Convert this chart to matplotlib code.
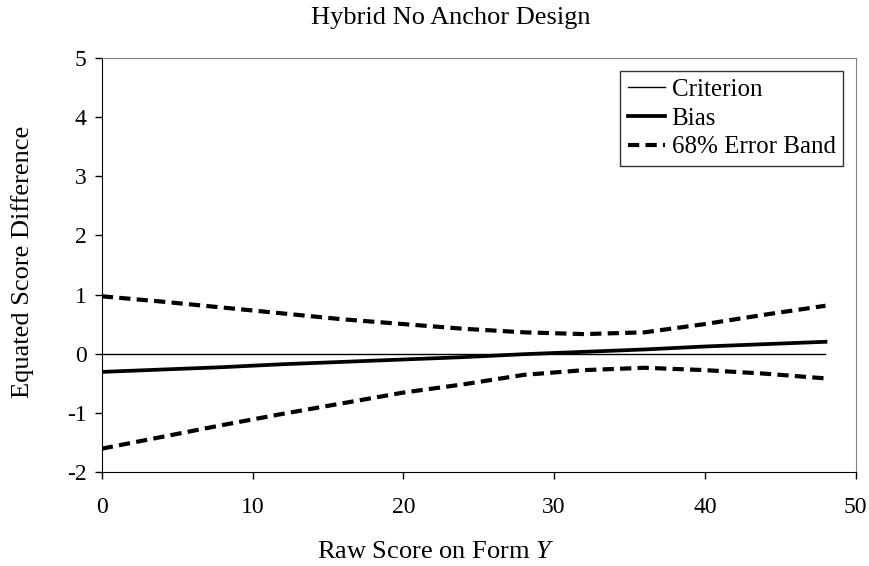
import matplotlib
matplotlib.use("Agg")
import matplotlib.pyplot as plt

plt.rcParams['font.family'] = ['Liberation Serif', 'DejaVu Serif']
plt.rcParams['mathtext.fontset'] = 'custom'
plt.rcParams['mathtext.it'] = 'Liberation Serif:italic'
plt.rcParams['mathtext.rm'] = 'Liberation Serif'
plt.rcParams['axes.unicode_minus'] = False

# raw score points
escores = [0, 4, 8, 12, 16, 20, 24, 28, 32, 36, 40, 44, 48]
criterion = [0, 0, 0, 0, 0, 0, 0, 0, 0, 0, 0, 0, 0]
bias = [-0.31, -0.27, -0.23, -0.18, -0.14, -0.10, -0.06, -0.01, 0.03, 0.07, 0.12, 0.16, 0.20]
banda_sup = [0.97, 0.88, 0.78, 0.68, 0.58, 0.50, 0.42, 0.36, 0.33, 0.36, 0.50, 0.66, 0.81]
banda_inf = [-1.61, -1.41, -1.21, -1.02, -0.84, -0.66, -0.52, -0.36, -0.28, -0.24, -0.28, -0.34, -0.42]

xticks = [0, 10, 20, 30, 40, 50]
yticks = [-2, -1, 0, 1, 2, 3, 4, 5]

fig = plt.figure(figsize=(8.7, 5.66), dpi=100)
ax = fig.add_axes([0.117, 0.1666, 0.8665, 0.7304])

ax.plot(escores, criterion, color='black', linewidth=1.0, label='Criterion')
ax.plot(escores, bias, color='black', linewidth=2.7, label='Bias')
ax.plot(escores, banda_sup, color='black', linewidth=3.0, dashes=(2.7, 1.5), label='68% Error Band')
ax.plot(escores, banda_inf, color='black', linewidth=3.0, dashes=(2.7, 1.5))

ax.set_xlim(0, 50)
ax.set_ylim(-2, 5)
ax.set_xticks(xticks)
ax.set_yticks(yticks)
ax.tick_params(axis='x', direction='out', length=5, width=1, labelsize=17, pad=13)
ax.tick_params(axis='y', direction='out', length=5, width=1, labelsize=17, pad=6)

for lado in ['top', 'right']:
    ax.spines[lado].set_color('#808080')
for lado in ['left', 'bottom']:
    ax.spines[lado].set_color('black')

fig.text(0.518, 0.968, 'Hybrid No Anchor Design', ha='center', va='center', fontsize=19)
fig.text(0.501, 0.025, 'Raw Score on Form $Y$', ha='center', va='center', fontsize=19)
fig.text(0.026, 0.537, 'Equated Score Difference', ha='center', va='center', rotation=90, fontsize=19)

leg = ax.legend(loc='upper right', fontsize=18, frameon=True, fancybox=False,
                edgecolor='black', handlelength=1.5, handletextpad=0.25,
                borderpad=0.3, labelspacing=0.25, borderaxespad=0.5)
leg.get_frame().set_linewidth(1.0)

fig.savefig('out.png', dpi=100)
